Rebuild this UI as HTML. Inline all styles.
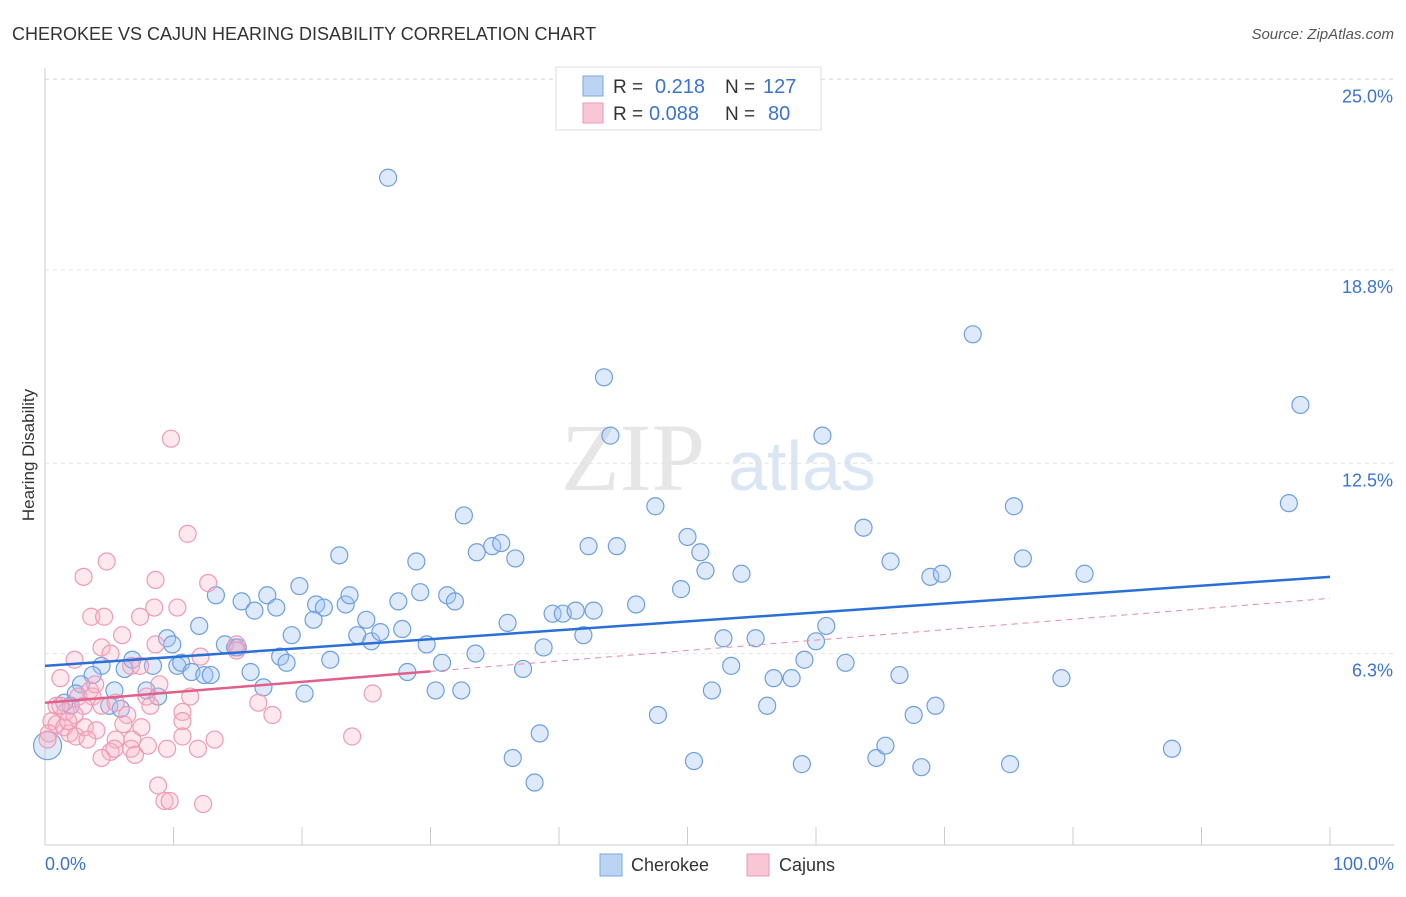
<!DOCTYPE html>
<html><head><meta charset="utf-8"><style>
body{margin:0;background:#fff;font-family:"Liberation Sans",sans-serif;}
</style></head><body>
<svg id="chart" width="1406" height="892" xmlns="http://www.w3.org/2000/svg" font-family="Liberation Sans, sans-serif">
<text x="12" y="40" font-size="18" fill="#333">CHEROKEE VS CAJUN HEARING DISABILITY CORRELATION CHART</text>
<text x="1394" y="39" font-size="15" fill="#555" font-style="italic" text-anchor="end">Source: ZipAtlas.com</text>
<g>
<text x="633" y="490" font-size="96" fill="#e6e6e6" font-family="Liberation Serif, serif" text-anchor="middle">ZIP</text>
<text x="802" y="490" font-size="70" fill="#dbe6f5" text-anchor="middle">atlas</text>
</g>
<g id="grid"></g>
<g id="axes"></g>
<g id="marks"></g>
<text transform="translate(34,455) rotate(-90)" font-size="17" fill="#333" text-anchor="middle">Hearing Disability</text>
<g>
<rect x="556" y="67" width="265" height="63" fill="#fff" stroke="#ddd"/>
<rect x="583" y="76" width="20" height="20" fill="#bcd4f3" stroke="#7aa7e0"/>
<rect x="583" y="103" width="20" height="20" fill="#f9c6d6" stroke="#eb9ab4"/>
<text x="613" y="93" font-size="19" fill="#333">R = </text><text x="655" y="93" font-size="20" fill="#3b73d1">0.218</text>
<text x="725" y="93" font-size="19" fill="#333">N = </text><text x="763" y="93" font-size="20" fill="#3b73d1">127</text>
<text x="613" y="120" font-size="19" fill="#333">R = </text><text x="649" y="120" font-size="20" fill="#3b73d1">0.088</text>
<text x="725" y="120" font-size="19" fill="#333">N = </text><text x="768" y="120" font-size="20" fill="#3b73d1">80</text>
</g>
<g>
<rect x="600" y="854" width="22" height="22" fill="#bcd4f3" stroke="#7aa7e0"/>
<text x="631" y="871" font-size="18" fill="#333">Cherokee</text>
<rect x="747" y="854" width="22" height="22" fill="#f9c6d6" stroke="#eb9ab4"/>
<text x="779" y="871" font-size="18" fill="#333">Cajuns</text>
</g>
</svg>
<script>
const yTicks=[6.3,12.5,18.8,25.0];
const yTickLabels=["6.3%","12.5%","18.8%","25.0%"];
const xTickCount=10;
const blueX=[26.7,72.2,43.5,97.7,44.0,60.5,32.6,47.5,63.7,75.4,96.8,22.9,28.9,33.6,34.8,35.5,36.6,42.3,44.5,50.0,51.0,65.8,76.1,51.4,54.2,68.9,69.8,80.9,13.3,15.3,16.3,17.3,18.0,19.8,21.1,21.7,23.4,23.7,27.5,29.2,31.3,31.9,39.5,40.3,41.3,42.7,46.0,49.5,12.0,20.9,25.0,19.2,24.3,25.4,26.1,27.8,29.7,36.0,41.9,52.8,55.3,60.0,60.8,9.5,9.9,14.0,14.8,15.0,4.4,6.2,6.8,8.4,10.3,10.6,11.4,12.4,12.9,16.0,18.3,18.8,22.2,30.9,33.5,38.8,53.4,59.1,62.3,3.7,2.8,2.4,5.4,7.9,8.8,17.0,20.2,28.2,30.4,32.4,37.2,51.9,56.7,58.1,66.5,79.1,1.5,2.0,5.0,5.9,47.7,56.2,67.6,69.3,38.5,36.4,50.5,58.9,64.7,65.4,68.2,75.1,87.7,38.1,0.2];
const blueY=[21.8,16.7,15.3,14.4,13.4,13.4,10.8,11.1,10.4,11.1,11.2,9.5,9.3,9.6,9.8,9.9,9.4,9.8,9.8,10.1,9.6,9.3,9.4,9.0,8.9,8.8,8.9,8.9,8.2,8.0,7.7,8.2,7.8,8.5,7.9,7.8,7.9,8.2,8.0,8.3,8.2,8.0,7.6,7.6,7.7,7.7,7.9,8.4,7.2,7.4,7.4,6.9,6.9,6.7,7.0,7.1,6.6,7.3,6.9,6.8,6.8,6.7,7.2,6.8,6.6,6.6,6.5,6.5,5.9,5.8,6.1,5.9,5.9,6.0,5.7,5.6,5.6,5.7,6.2,6.0,6.1,6.0,6.3,6.5,5.9,6.1,6.0,5.6,5.3,5.0,5.1,5.1,4.9,5.2,5.0,5.7,5.1,5.1,5.8,5.1,5.5,5.5,5.6,5.5,4.7,4.6,4.6,4.5,4.3,4.6,4.3,4.6,3.7,2.9,2.8,2.7,2.9,3.3,2.6,2.7,3.2,2.1,3.3];
const pinkX=[9.8,11.1,4.8,3.0,8.6,12.7,3.6,4.6,10.3,7.4,8.5,6.0,2.3,4.4,5.1,8.6,6.7,7.4,12.1,14.9,14.9,1.2,3.5,2.6,3.7,8.9,7.9,11.3,3.0,0.9,1.6,2.3,4.4,5.5,6.4,8.2,10.7,10.7,6.1,7.5,0.5,0.9,1.5,1.9,2.4,3.1,4.0,0.3,6.8,13.2,10.7,8.0,5.5,9.5,6.7,5.1,5.4,4.4,7.0,11.9,16.6,17.7,25.5,23.9,8.8,9.3,9.7,12.3,0.2,1.2,3.9,1.8,3.3];
const pinkY=[13.3,10.2,9.3,8.8,8.7,8.6,7.5,7.5,7.8,7.5,7.8,6.9,6.1,6.5,6.3,6.6,5.9,5.9,6.2,6.6,6.4,5.5,5.1,4.9,4.9,5.3,4.9,4.9,4.6,4.6,4.4,4.3,4.6,4.7,4.3,4.6,4.4,4.1,4.0,3.9,4.1,4.0,3.9,3.7,3.6,3.9,3.8,3.7,3.5,3.5,3.6,3.3,3.5,3.2,3.2,3.1,3.2,2.9,3.0,3.2,4.7,4.3,5.0,3.6,2.0,1.5,1.5,1.4,3.5,4.6,5.3,4.1,3.5];
const blueTrend=[5.9,8.8];
const pinkTrend=[4.7,8.1];
const pinkSolidEnd=30;

const NS="http://www.w3.org/2000/svg";
const X=v=>45+v*12.85, Y=v=>847-v*30.7;
function mk(t,a,p){const e=document.createElementNS(NS,t);for(const k in a)e.setAttribute(k,a[k]);p.appendChild(e);return e;}
const grid=document.getElementById('grid'),axes=document.getElementById('axes'),marks=document.getElementById('marks');
yTicks.forEach((t,i)=>{
 const l=mk('line',{x1:45,x2:1394,y1:Y(t),y2:Y(t),stroke:'#e2e2e2','stroke-dasharray':'4,4'},grid);
 
 
 const tx=mk('text',{x:1393,y:Y(t)+23,'font-size':18,fill:'#3b73d1','text-anchor':'end'},axes);
 tx.textContent=yTickLabels[i];
 
 
});
const topGrid=mk('line',{x1:45,x2:1394,y1:79,y2:79,stroke:'#e2e2e2','stroke-dasharray':'4,4'},grid);


const ax=mk('line',{x1:45,x2:1394,y1:845,y2:845,stroke:'#ccc'},axes);


const ay=mk('line',{x1:45,x2:45,y1:68,y2:845,stroke:'#ccc'},axes);


for(let i=0;i<=xTickCount;i++){
 const t=mk('line',{x1:X(i*10),x2:X(i*10),y1:827,y2:845,stroke:'#ccc'},axes);
 
 
}
const xl0=mk('text',{x:45,y:870,'font-size':18,fill:'#3b73d1'},axes);xl0.textContent='0.0%';


const xl1=mk('text',{x:1394,y:870,'font-size':18,fill:'#3b73d1','text-anchor':'end'},axes);xl1.textContent='100.0%';



blueX.forEach((x,i)=>{
 const c=mk('circle',{cx:X(x),cy:Y(blueY[i]),r:(i===blueX.length-1?14:8.5),fill:'rgba(160,195,240,0.35)',stroke:'#6d9fe0','stroke-width':1.2},marks);
 
 
});
pinkX.forEach((x,i)=>{
 const c=mk('circle',{cx:X(x),cy:Y(pinkY[i]),r:8.5,fill:'rgba(248,180,200,0.3)',stroke:'#ef9ab5','stroke-width':1.2},marks);
 
 
});
const pv=x=>pinkTrend[0]+(pinkTrend[1]-pinkTrend[0])*x/100;
const pd=mk('line',{x1:X(pinkSolidEnd),y1:Y(pv(pinkSolidEnd)),x2:X(100),y2:Y(pv(100)),stroke:'#e68aa8','stroke-width':1,'stroke-dasharray':'6,5'},marks);


const ps=mk('line',{x1:X(0),y1:Y(pv(0)),x2:X(pinkSolidEnd),y2:Y(pv(pinkSolidEnd)),stroke:'#e0608a','stroke-width':2.5},marks);


const bl=mk('line',{x1:X(0),y1:Y(blueTrend[0]),x2:X(100),y2:Y(blueTrend[1]),stroke:'#2a6fd6','stroke-width':2.5},marks);


</script>
</body></html>
